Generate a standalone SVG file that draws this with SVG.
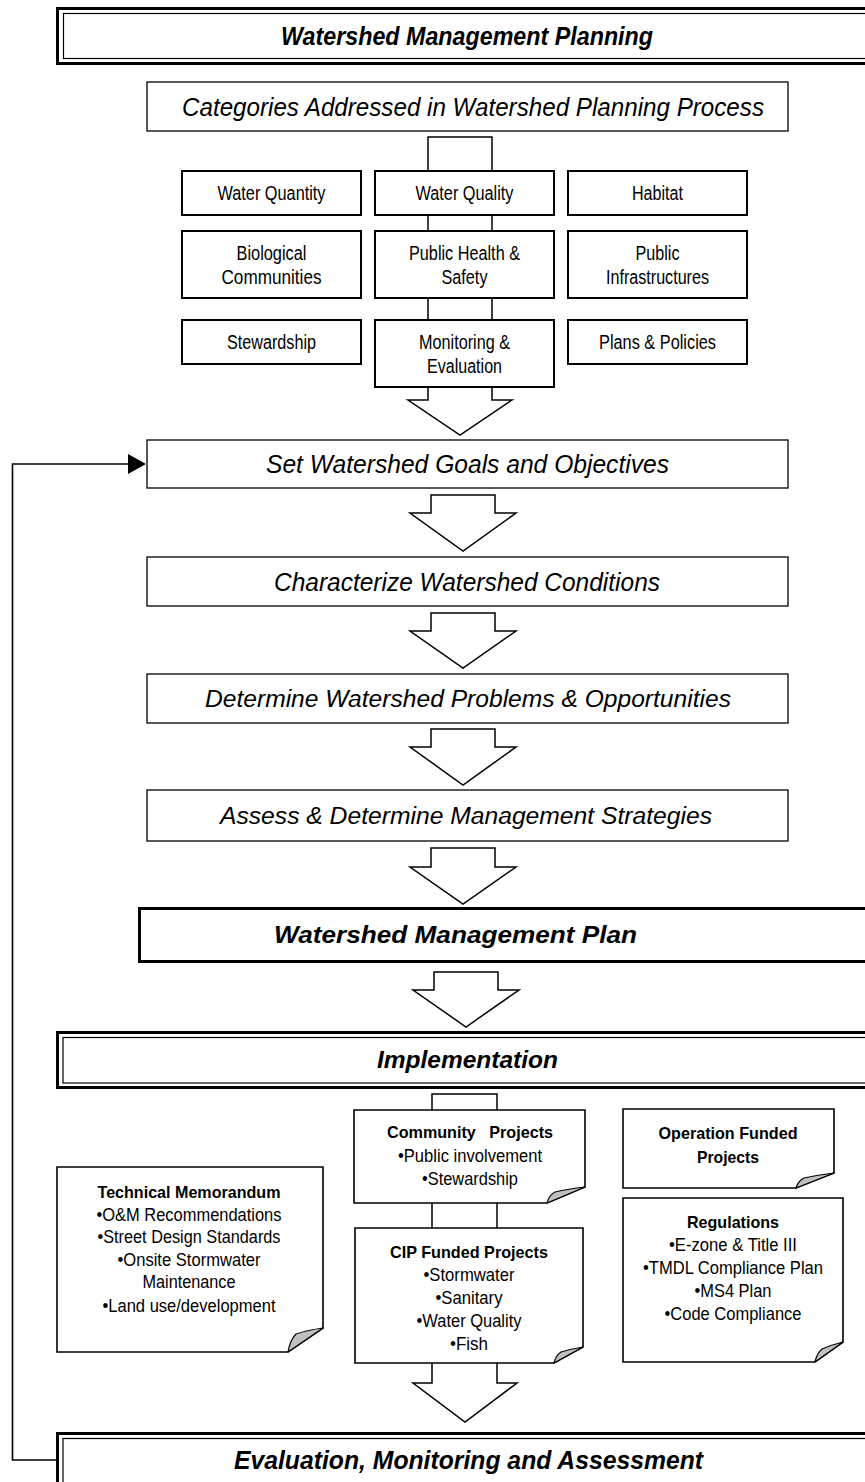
<svg xmlns="http://www.w3.org/2000/svg" width="865" height="1482" viewBox="0 0 865 1482">
  <style>
    text { font-family: "Liberation Sans", Arial, sans-serif; fill: #000; }
    .c { text-anchor: middle; }
    .hd { font-weight: bold; font-style: italic; }
    .it { font-style: italic; }
    .box { fill: #fff; stroke: #000; stroke-width: 1.3; }
    .cat { fill: #fff; stroke: #000; stroke-width: 2; }
    .blk { fill: #fff; stroke: #000; stroke-width: 1.5; stroke-linejoin: miter; }
    .note { fill: #fff; stroke: #000; stroke-width: 1.6; }
    .fold { fill: #c0c0c0; stroke: #000; stroke-width: 1.2; stroke-linejoin: round; }
    .thick { fill: #fff; stroke: #000; stroke-width: 3; }
    .thin { fill: none; stroke: #000; stroke-width: 1.2; }
    .gt { font-size: 19.5px; }
    .nt { font-size: 17.5px; }
    .nb { font-size: 17px; font-weight: bold; }
  </style>

  <rect width="865" height="1482" fill="#fff"/>

  <!-- feedback loop and block arrows -->
  <g id="connectors">
    <polyline points="57,1460 12.5,1460 12.5,464 128,464" fill="none" stroke="#000" stroke-width="1.6"/>
    <path d="M128,454 L146,464 L128,474 Z" fill="#000"/>

    <!-- block arrow behind the category column -->
    <polygon class="blk" points="428,137 492,137 492,400 512,400 460,435 408,400 428,400"/>
    <!-- step arrows -->
    <polygon class="blk" points="431,495 495,495 495,513 516,513 463,551 410,513 431,513"/>
    <polygon class="blk" points="431,613 495,613 495,631 516,631 463,668 410,631 431,631"/>
    <polygon class="blk" points="431,729 495,729 495,747 516,747 463,785 410,747 431,747"/>
    <polygon class="blk" points="431,848 495,848 495,867 516,867 463,904 410,867 431,867"/>
    <polygon class="blk" points="434,972 498,972 498,990 519,990 466,1027 413,990 434,990"/>
    <!-- block arrow behind the project notes -->
    <polygon class="blk" points="432,1094 497,1094 497,1383 517,1383 465,1422 413,1383 432,1383"/>
  </g>

  <g id="planning-header">
    <rect class="thick" x="57.5" y="8.5" width="900" height="55"/>
    <rect class="thin" x="63.5" y="13.5" width="900" height="45"/>
    <text class="c hd" x="467" y="45" font-size="25" textLength="372" lengthAdjust="spacingAndGlyphs">Watershed Management Planning</text>
  </g>

  <g id="categories">
    <rect class="box" x="147" y="82" width="641" height="49"/>
    <text class="c it" x="473" y="116" font-size="26" textLength="582" lengthAdjust="spacingAndGlyphs">Categories Addressed in Watershed Planning Process</text>
  </g>

  <g id="water-quantity">
    <rect class="cat" x="182" y="171" width="179" height="44"/>
    <text class="c gt" x="271.5" y="200" textLength="108" lengthAdjust="spacingAndGlyphs">Water Quantity</text>
  </g>
  <g id="water-quality">
    <rect class="cat" x="375" y="171" width="179" height="44"/>
    <text class="c gt" x="464.5" y="200" textLength="98" lengthAdjust="spacingAndGlyphs">Water Quality</text>
  </g>
  <g id="habitat">
    <rect class="cat" x="568" y="171" width="179" height="44"/>
    <text class="c gt" x="657.5" y="200" textLength="51" lengthAdjust="spacingAndGlyphs">Habitat</text>
  </g>
  <g id="biological-communities">
    <rect class="cat" x="182" y="231" width="179" height="67"/>
    <text class="c gt" x="271.5" y="260" textLength="70" lengthAdjust="spacingAndGlyphs">Biological</text>
    <text class="c gt" x="271.5" y="284" textLength="100" lengthAdjust="spacingAndGlyphs">Communities</text>
  </g>
  <g id="public-health">
    <rect class="cat" x="375" y="231" width="179" height="67"/>
    <text class="c gt" x="464.5" y="260" textLength="111" lengthAdjust="spacingAndGlyphs">Public Health &amp;</text>
    <text class="c gt" x="464.5" y="284" textLength="46" lengthAdjust="spacingAndGlyphs">Safety</text>
  </g>
  <g id="public-infrastructures">
    <rect class="cat" x="568" y="231" width="179" height="67"/>
    <text class="c gt" x="657.5" y="260" textLength="44" lengthAdjust="spacingAndGlyphs">Public</text>
    <text class="c gt" x="657.5" y="284" textLength="103" lengthAdjust="spacingAndGlyphs">Infrastructures</text>
  </g>
  <g id="stewardship">
    <rect class="cat" x="182" y="320" width="179" height="44"/>
    <text class="c gt" x="271.5" y="349" textLength="89" lengthAdjust="spacingAndGlyphs">Stewardship</text>
  </g>
  <g id="monitoring-evaluation">
    <rect class="cat" x="375" y="320" width="179" height="67"/>
    <text class="c gt" x="464.5" y="349" textLength="91" lengthAdjust="spacingAndGlyphs">Monitoring &amp;</text>
    <text class="c gt" x="464.5" y="373" textLength="75" lengthAdjust="spacingAndGlyphs">Evaluation</text>
  </g>
  <g id="plans-policies">
    <rect class="cat" x="568" y="320" width="179" height="44"/>
    <text class="c gt" x="657.5" y="349" textLength="117" lengthAdjust="spacingAndGlyphs">Plans &amp; Policies</text>
  </g>

  <g id="goals">
    <rect class="box" x="147" y="440" width="641" height="48"/>
    <text class="c it" x="467.5" y="473" font-size="26" textLength="403" lengthAdjust="spacingAndGlyphs">Set Watershed Goals and Objectives</text>
  </g>
  <g id="conditions">
    <rect class="box" x="147" y="557" width="641" height="49"/>
    <text class="c it" x="467" y="591" font-size="26" textLength="386" lengthAdjust="spacingAndGlyphs">Characterize Watershed Conditions</text>
  </g>
  <g id="problems">
    <rect class="box" x="147" y="674" width="641" height="49"/>
    <text class="c it" x="468" y="707" font-size="23" textLength="526" lengthAdjust="spacingAndGlyphs">Determine Watershed Problems &amp; Opportunities</text>
  </g>
  <g id="strategies">
    <rect class="box" x="147" y="790" width="641" height="51"/>
    <text class="c it" x="466" y="824" font-size="23" textLength="492" lengthAdjust="spacingAndGlyphs">Assess &amp; Determine Management Strategies</text>
  </g>

  <g id="management-plan">
    <rect class="thick" x="139.5" y="908.5" width="800" height="53"/>
    <text class="c hd" x="455.5" y="943" font-size="23" textLength="363" lengthAdjust="spacingAndGlyphs">Watershed Management Plan</text>
  </g>

  <g id="implementation">
    <rect class="thick" x="57.5" y="1032.5" width="900" height="55"/>
    <rect class="thin" x="63" y="1037.5" width="900" height="45.5"/>
    <text class="c hd" x="467.5" y="1068" font-size="23" textLength="181" lengthAdjust="spacingAndGlyphs">Implementation</text>
  </g>

  <g id="technical-memorandum">
    <path class="note" d="M57,1167 H323 V1328 L288,1352 H57 Z"/>
    <path class="fold" d="M288,1352 Q290,1340 296,1334 Q308,1330 323,1328 Z"/>
    <text class="c nb" x="189" y="1198" textLength="183" lengthAdjust="spacingAndGlyphs">Technical Memorandum</text>
    <text class="c nt" x="189" y="1221" textLength="185" lengthAdjust="spacingAndGlyphs">•O&amp;M Recommendations</text>
    <text class="c nt" x="189" y="1243" textLength="183" lengthAdjust="spacingAndGlyphs">•Street Design Standards</text>
    <text class="c nt" x="189" y="1266" textLength="143" lengthAdjust="spacingAndGlyphs">•Onsite Stormwater</text>
    <text class="c nt" x="189" y="1288" textLength="93" lengthAdjust="spacingAndGlyphs">Maintenance</text>
    <text class="c nt" x="189" y="1312" textLength="173" lengthAdjust="spacingAndGlyphs">•Land use/development</text>
  </g>

  <g id="community-projects">
    <path class="note" d="M354,1110 H585 V1187 L547,1203 H354 Z"/>
    <path class="fold" d="M547,1203 Q549,1195 555,1192 Q568,1189 585,1187 Z"/>
    <text class="c nb" x="470" y="1138" xml:space="preserve" textLength="166" lengthAdjust="spacingAndGlyphs">Community   Projects</text>
    <text class="c nt" x="470" y="1162" textLength="144" lengthAdjust="spacingAndGlyphs">•Public involvement</text>
    <text class="c nt" x="470" y="1185" textLength="96" lengthAdjust="spacingAndGlyphs">•Stewardship</text>
  </g>

  <g id="cip-projects">
    <path class="note" d="M355,1228 H583 V1347 L554,1363 H355 Z"/>
    <path class="fold" d="M554,1363 Q556,1355 561,1352 Q571,1349 583,1347 Z"/>
    <text class="c nb" x="469" y="1258" textLength="158" lengthAdjust="spacingAndGlyphs">CIP Funded Projects</text>
    <text class="c nt" x="469" y="1281" textLength="91" lengthAdjust="spacingAndGlyphs">•Stormwater</text>
    <text class="c nt" x="469" y="1304" textLength="67" lengthAdjust="spacingAndGlyphs">•Sanitary</text>
    <text class="c nt" x="469" y="1327" textLength="105" lengthAdjust="spacingAndGlyphs">•Water Quality</text>
    <text class="c nt" x="469" y="1350" textLength="38" lengthAdjust="spacingAndGlyphs">•Fish</text>
  </g>

  <g id="operation-projects">
    <path class="note" d="M623,1109 H834 V1173 L796,1188 H623 Z"/>
    <path class="fold" d="M796,1188 Q798,1181 804,1178 Q818,1175 834,1173 Z"/>
    <text class="c nb" x="728" y="1139" textLength="139" lengthAdjust="spacingAndGlyphs">Operation Funded</text>
    <text class="c nb" x="728" y="1163" textLength="62" lengthAdjust="spacingAndGlyphs">Projects</text>
  </g>

  <g id="regulations">
    <path class="note" d="M623,1198 H843 V1342 L815,1362 H623 Z"/>
    <path class="fold" d="M815,1362 Q817,1353 822,1349 Q831,1345 843,1342 Z"/>
    <text class="c nb" x="733" y="1228" textLength="92" lengthAdjust="spacingAndGlyphs">Regulations</text>
    <text class="c nt" x="733" y="1251" textLength="128" lengthAdjust="spacingAndGlyphs">•E-zone &amp; Title III</text>
    <text class="c nt" x="733" y="1274" textLength="180" lengthAdjust="spacingAndGlyphs">•TMDL Compliance Plan</text>
    <text class="c nt" x="733" y="1297" textLength="77" lengthAdjust="spacingAndGlyphs">•MS4 Plan</text>
    <text class="c nt" x="733" y="1320" textLength="137" lengthAdjust="spacingAndGlyphs">•Code Compliance</text>
  </g>

  <g id="evaluation">
    <rect class="thick" x="57.5" y="1433.5" width="900" height="80"/>
    <rect class="thin" x="63" y="1438.5" width="900" height="80"/>
    <text class="c hd" x="468.5" y="1469" font-size="26" textLength="469" lengthAdjust="spacingAndGlyphs">Evaluation, Monitoring and Assessment</text>
  </g>
</svg>
